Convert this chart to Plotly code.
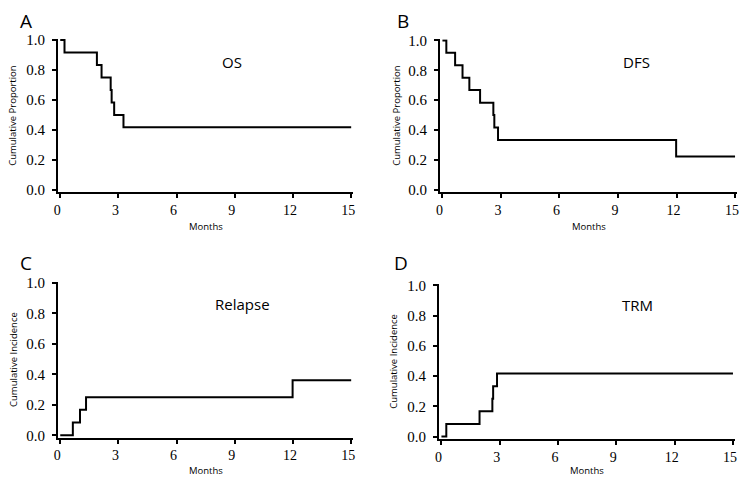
import plotly.graph_objects as go

W, H = 744, 488

# ---- data ----
os_t = [0, 0.22, 1.89, 2.13, 2.60, 2.65, 2.78, 3.26, 15]
os_s = [1.0, 0.917, 0.833, 0.75, 0.667, 0.583, 0.5, 0.417, 0.417]

dfs_t = [0, 0.20, 0.65, 1.03, 1.38, 1.93, 2.61, 2.66, 2.85, 11.98, 15]
dfs_s = [1.0, 0.917, 0.833, 0.75, 0.667, 0.583, 0.5, 0.417, 0.333, 0.222, 0.222]

rel_t = [0, 0.65, 1.02, 1.33, 11.98, 15]
rel_c = [0.0, 0.083, 0.167, 0.25, 0.361, 0.361]

trm_t = [0, 0.25, 1.96, 2.62, 2.66, 2.86, 15]
trm_c = [0.0, 0.083, 0.167, 0.25, 0.333, 0.417, 0.417]

x_ticks = [0, 3, 6, 9, 12, 15]
y_ticks = [0.0, 0.2, 0.4, 0.6, 0.8, 1.0]
y_ticklabels = ["0.0", "0.2", "0.4", "0.6", "0.8", "1.0"]

panels = [
    # letter, label, ytitle, t, v, x0px, x15px, y1px, y0px
    ("A", "OS", "Cumulative Proportion", os_t, os_s, 56.7, 350.0, 34.0, 187.7),
    ("B", "DFS", "Cumulative Proportion", dfs_t, dfs_s, 442.0, 737.0, 34.3, 187.7),
    ("C", "Relapse", "Cumulative Incidence", rel_t, rel_c, 56.7, 350.0, 283.3, 440.0),
    ("D", "TRM", "Cumulative Incidence", trm_t, trm_c, 441.0, 734.9, 286.0, 441.3),
]
label_pos = [(230, 57), (638, 57), (240, 305), (639, 306)]
letter_pos = [(22, 14), (402, 14), (22, 263), (400, 263)]
ytitle_x = [9, 395, 9, 393]
months_y = [225, 225, 476, 476]

XR = (-0.12, 15.1)
YR = (-0.015, 1.008)

fig = go.Figure()
anns = []
for i, (letter, lab, ytit, t, v, x0, x15, y1, y0) in enumerate(panels):
    n = "" if i == 0 else str(i + 1)
    pxm = (x15 - x0) / 15.0
    pxu = (y0 - y1)
    dl = x0 + XR[0] * pxm
    dr = x0 + XR[1] * pxm
    dtop = y0 - YR[1] * pxu
    dbot = y0 - YR[0] * pxu
    fig.add_trace(go.Scatter(
        x=t, y=v, mode="lines", line=dict(color="black", width=2, shape="hv"),
        xaxis="x" + n, yaxis="y" + n, showlegend=False, hoverinfo="skip"))
    common = dict(showgrid=False, zeroline=False, showline=True, linecolor="black",
                  linewidth=2, ticks="outside", ticklen=4, tickwidth=1.5,
                  tickcolor="black")
    fig.layout["xaxis" + n] = dict(domain=[dl / W, dr / W], range=list(XR),
                                   tickvals=x_ticks, anchor="y" + n,
                                   ticklabelshift=-3,
                                   tickfont=dict(family="Liberation Serif", size=14,
                                                 color="black"), **common)
    fig.layout["yaxis" + n] = dict(domain=[1 - dbot / H, 1 - dtop / H], range=list(YR),
                                   tickvals=y_ticks, ticktext=y_ticklabels,
                                   anchor="x" + n, ticklabelstandoff=4,
                                   tickfont=dict(family="Liberation Serif", size=15,
                                                 color="black"), **common)
    lx, ly = label_pos[i]
    anns.append(dict(x=lx / W, y=1 - ly / H, xref="paper", yref="paper", text=lab,
                     showarrow=False, xanchor="center", yanchor="middle",
                     font=dict(family="Open Sans", size=15, color="black")))
    gx, gy = letter_pos[i]
    anns.append(dict(x=gx / W, y=1 - gy / H, xref="paper", yref="paper", text=letter,
                     showarrow=False, xanchor="center", yanchor="middle",
                     font=dict(family="Open Sans", size=19, color="black")))
    anns.append(dict(x=ytitle_x[i] / W, y=1 - ((y0 + y1) / 2) / H, xref="paper",
                     yref="paper", text=ytit, textangle=-90, showarrow=False,
                     xanchor="center", yanchor="middle",
                     font=dict(family="Open Sans", size=9.5, color="black")))
    anns.append(dict(x=((x0 + x15) / 2) / W, y=1 - months_y[i] / H, xref="paper",
                     yref="paper", text="Months", showarrow=False,
                     xanchor="center", yanchor="middle",
                     font=dict(family="Open Sans", size=9.5, color="black")))

fig.update_layout(width=W, height=H, margin=dict(l=0, r=0, t=0, b=0),
                  paper_bgcolor="white", plot_bgcolor="white", annotations=anns)
fig.write_html("out.html", config={"displayModeBar": False},
               post_script="document.body.style.margin='0';"
                           "document.body.style.overflow='hidden';")
